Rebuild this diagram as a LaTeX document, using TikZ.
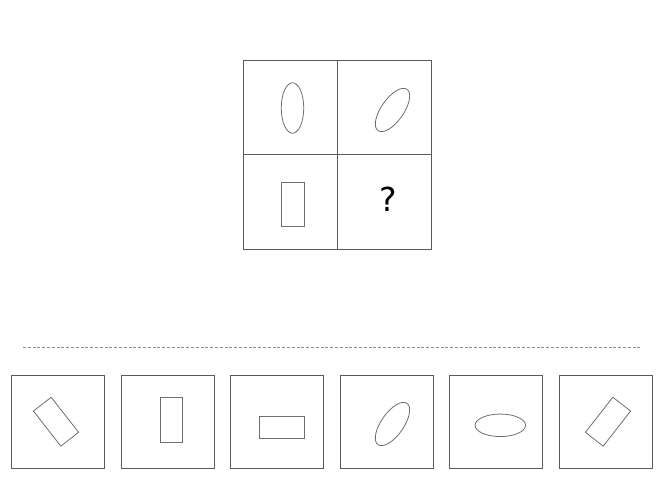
\documentclass[tikz,border=0pt]{standalone}
\usepackage{fontspec}
\usepackage{xcolor}
\usepackage{tikz}
\usetikzlibrary{positioning,shapes.geometric}
\newfontfamily\qfont{DejaVu Sans}

\definecolor{boxgray}{HTML}{595959}
\definecolor{shapegray}{HTML}{6E6E6E}
\definecolor{dashgray}{HTML}{8C8C8C}

\tikzset{
  cell/.style={draw=boxgray, line width=1pt, minimum size=94pt, inner sep=0pt, outer sep=0pt},
  option/.style={draw=boxgray, line width=1pt, minimum size=93pt, inner sep=0pt, outer sep=0pt},
  oval/.style={ellipse, draw=shapegray, line width=0.8pt, minimum width=22.5pt, minimum height=50.5pt, inner sep=0pt},
  bar/.style={rectangle, draw=shapegray, line width=0.8pt, minimum width=22.5pt, minimum height=44.5pt, inner sep=0pt}
}

\begin{document}
\begin{tikzpicture}[x=1pt, y=-1pt, node distance=16.5pt]
			\useasboundingbox (0,0) rectangle (663,497);

			% question grid
			\node[cell] (c11) at (290,108) {};
			\node[cell] (c12) [right=0pt of c11] {};
			\node[cell] (c21) [below=0pt of c11] {};
			\node[cell] (c22) [right=0pt of c21] {};

			\node[oval] (e11) at (292.5,108) {};
			\node[oval, rotate=-35] (e12) at (392.5,110) {};
			\node[bar] (r21) at (293,204.5) {};
			\node[font=\qfont\fontsize{33}{33}\selectfont] (qm) at (388,199) {?};

			% separator
			\coordinate (dl) at (23,347.5);
			\coordinate (dr) at (642,347.5);
			\draw[dashgray, line width=0.8pt, dash pattern=on 3pt off 1.8pt] (dl) -- (dr);

			% answer options
			\node[option] (o1) at (58,422) {};
			\node[option] (o2) [right=of o1] {};
			\node[option] (o3) [right=of o2] {};
			\node[option] (o4) [right=of o3] {};
			\node[option] (o5) [right=of o4] {};
			\node[option] (o6) [right=of o5] {};

			\node[bar, rotate=38] (s1) at (56,421.7) {};
			\node[bar] (s2) at (171.5,420) {};
			\node[bar, rotate=90] (s3) at (282,427.5) {};
			\node[oval, rotate=-35] (s4) at (392.5,424) {};
			\node[oval, rotate=90] (s5) at (500.3,425.3) {};
			\node[bar, rotate=-38] (s6) at (608,421.7) {};
		\end{tikzpicture}
\end{document}
